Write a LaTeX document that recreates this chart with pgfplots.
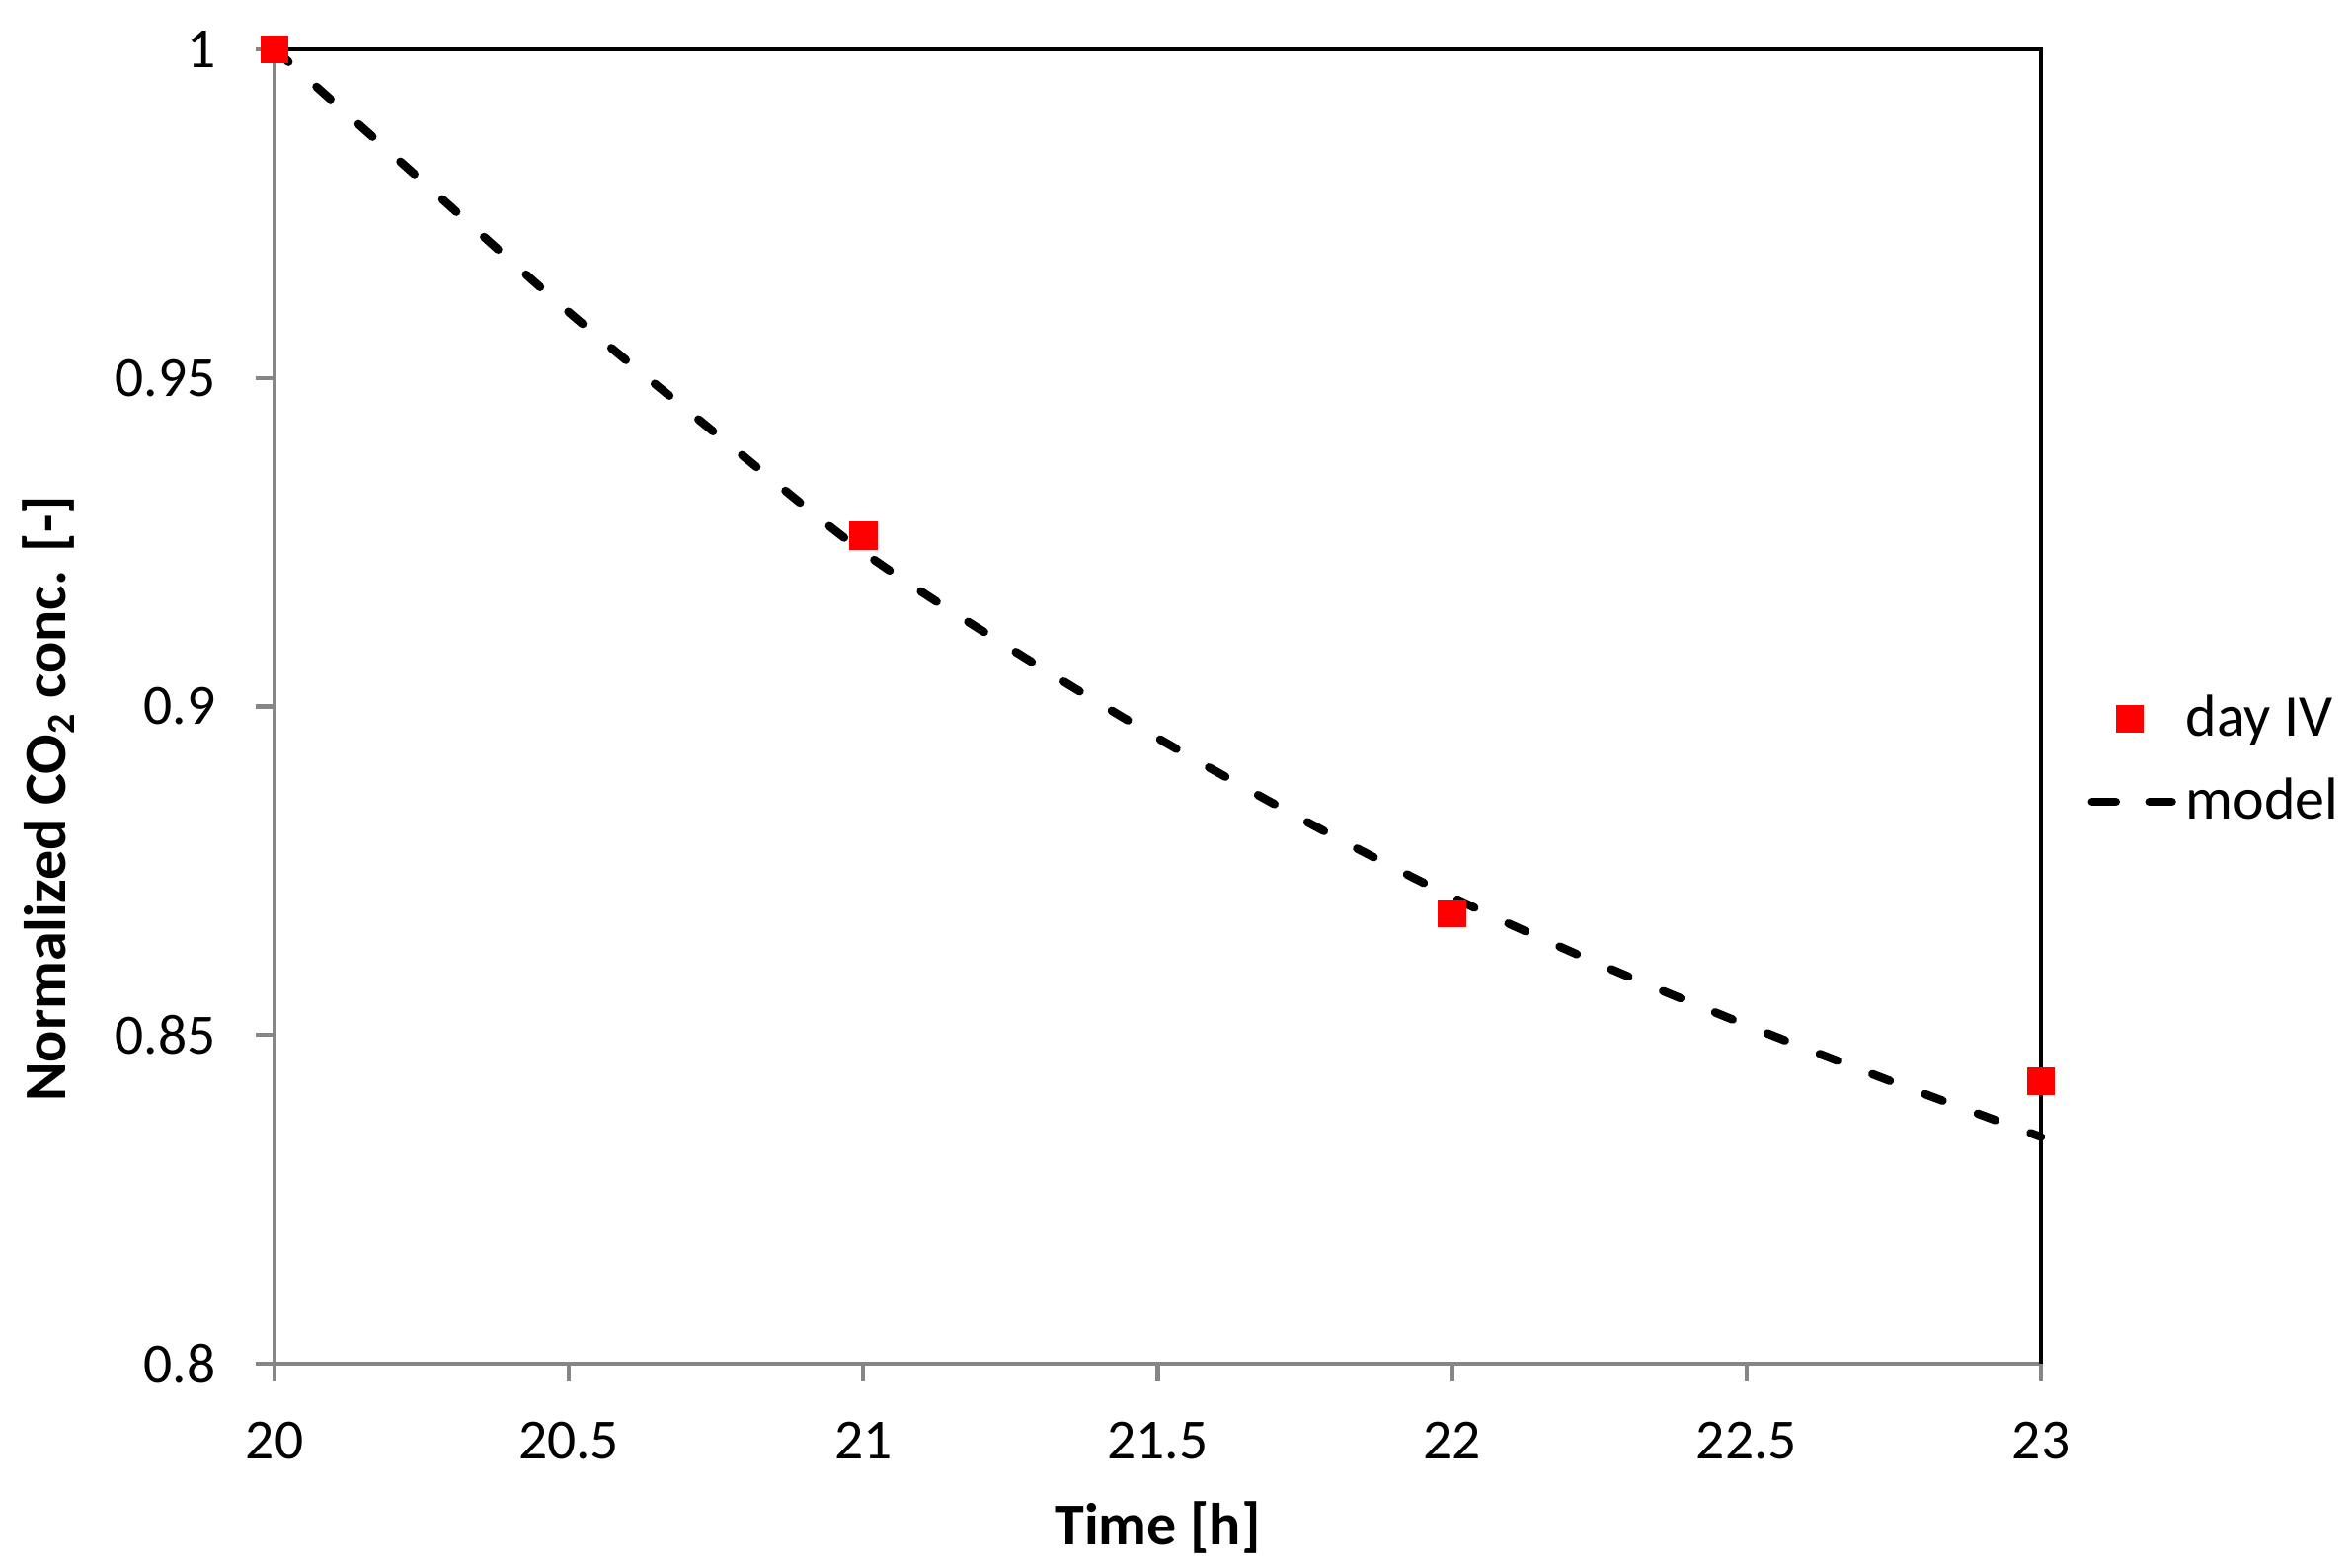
\documentclass[border=0pt]{standalone}
\usepackage{pgfplots}
\pgfplotsset{compat=1.18}
\usepackage{fontspec}
\setmainfont{Carlito}
\definecolor{axgray}{RGB}{134,134,134}
\definecolor{ptred}{RGB}{255,0,0}
\begin{document}
\begin{tikzpicture}
\useasboundingbox (-55.6pt,-41.4pt) rectangle (420.8pt,276.2pt);
\begin{axis}[
  scale only axis,
  width=357.8pt, height=266.2pt,
  xmin=20, xmax=23, ymin=0.8, ymax=1,
  enlargelimits=false,
  axis x line*=bottom, axis y line*=left,
  axis line style={axgray, line width=0.85pt, -},
  xtick={20,20.5,21,21.5,22,22.5,23},
  ytick={0.8,0.85,0.9,0.95,1},
  tick align=inside,
  major tick length=-3.7pt,
  tick style={axgray, line width=0.85pt},
  /pgf/number format/assume math mode=true,
  /pgf/number format/fixed,
  /pgf/number format/precision=2,
  ticklabel style={font=\fontsize{11.5}{13}\selectfont, text=black, inner sep=0pt},
  xticklabel style={anchor=north, yshift=-11.7pt},
  yticklabel style={anchor=east, xshift=-11.7pt},
  xlabel={\textbf{Time [h]}},
  ylabel={\textbf{Normalized CO\textsubscript{2} conc. [-]}},
  label style={font=\fontsize{12}{14}\selectfont},
  xlabel style={at={(axis description cs:0.5,-0.1247)}, anchor=center},
  ylabel style={at={(axis description cs:-0.128,0.43)}, anchor=center},
  legend style={at={(axis description cs:1.026,0.459)}, anchor=west, draw=none, fill=none,
    font=\fontsize{12}{14}\selectfont, row sep=3pt, inner sep=0pt},
  legend cell align=left,
  clip=false,
]
\addplot[only marks, mark=square*, mark size=2.65pt, mark options={fill=ptred, draw=ptred}]
  coordinates {(20,1) (21,0.926) (22,0.8685) (23,0.843)};
\addlegendentry{day IV}
\addplot[black, line width=1.7pt, line cap=round, dash pattern=on 3.8pt off 7.6pt, smooth, mark=none,
  legend image code/.code={\draw[black, line width=1.7pt, line cap=round, dash pattern=on 4.8pt off 6.8pt] (0.85pt,0pt) -- (17pt,0pt);}]
  coordinates {(20,1) (20.25,0.9800) (20.5,0.9600) (20.75,0.9415) (21,0.9235) (21.25,0.9088) (21.5,0.8952) (21.75,0.8826) (22,0.8710) (22.25,0.8608) (22.5,0.8515) (22.75,0.8428) (23,0.8345)};
\addlegendentry{model}
\draw[black, line width=0.85pt] (rel axis cs:0,1) -- (rel axis cs:1,1) -- (rel axis cs:1,0);
\end{axis}
\end{tikzpicture}
\end{document}
